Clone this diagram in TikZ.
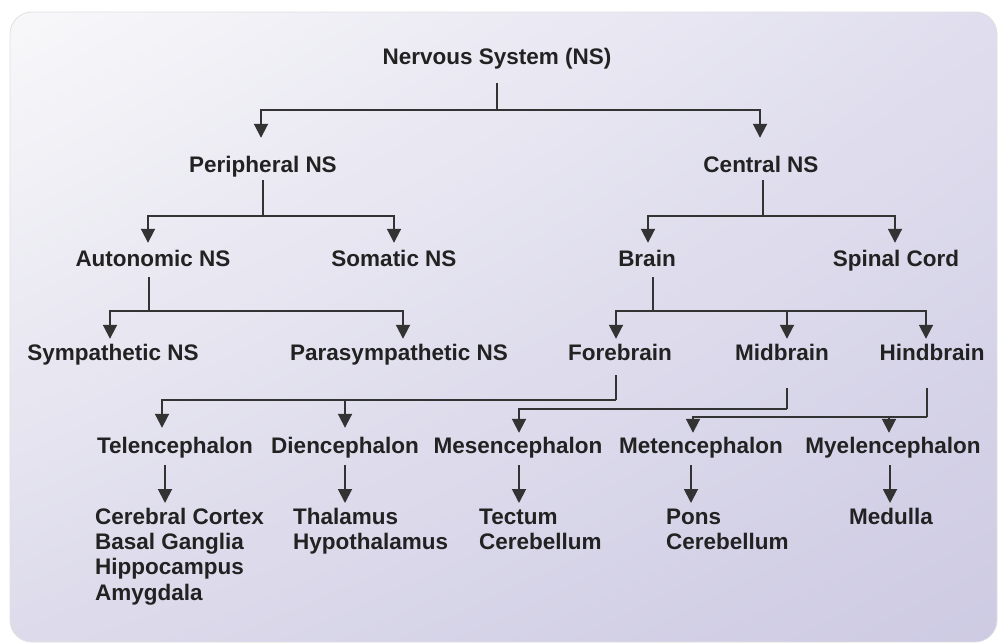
\documentclass[tikz,border=0pt]{standalone}
\usepackage{fontspec}
\setmainfont{Liberation Sans}
\usetikzlibrary{arrows.meta,shadings}
\definecolor{txt}{HTML}{222222}
\definecolor{ln}{HTML}{333333}
\definecolor{cUL}{HTML}{F8F8FA}
\definecolor{cUR}{HTML}{E0DEEE}
\definecolor{cLL}{HTML}{DDDBEB}
\definecolor{cLR}{HTML}{CDCAE3}
\tikzset{
  lbl/.style={anchor=base, inner sep=0pt, text height=16pt, text depth=5pt,
    text=txt, font=\fontsize{22.5}{25.3}\selectfont\bfseries},
  leaf/.style={anchor=north west, inner sep=0pt, align=left,
    text=txt, font=\fontsize{22.5}{25.3}\selectfont\bfseries},
  line/.style={draw=ln, line width=1.9pt},
  arr/.style={draw=ln, line width=1.9pt, -{Triangle[width=14pt,length=14pt]}},
}
\begin{document}
\begin{tikzpicture}[x=1pt,y=-1pt]
\useasboundingbox (0,0) rectangle (998,643);
\path[rounded corners=22pt, upper left=cUL, upper right=cUR, lower left=cLL, lower right=cLR]
  (10,12) rectangle (997,642);
\draw[rounded corners=22pt, draw=black!12, line width=0.8pt] (10,12) rectangle (997,642);

% level 0
\node[lbl] (ns) at (497,64) {Nervous System (NS)};
% level 1
\node[lbl] (pns) at (263,172) {Peripheral NS};
\node[lbl] (cns) at (761,172) {Central NS};
% level 2
\node[lbl] (aut) at (153,266) {Autonomic NS};
\node[lbl] (som) at (394,266) {Somatic NS};
\node[lbl] (brn) at (647,266) {Brain};
\node[lbl] (spc) at (896,266) {Spinal Cord};
% level 3
\node[lbl] (sym) at (113,360) {Sympathetic NS};
\node[lbl] (par) at (399,360) {Parasympathetic NS};
\node[lbl] (fb) at (620,360) {Forebrain};
\node[lbl] (mb) at (782,360) {Midbrain};
\node[lbl] (hb) at (932,360) {Hindbrain};
% level 4
\node[lbl] (tel) at (175,453) {Telencephalon};
\node[lbl] (die) at (345,453) {Diencephalon};
\node[lbl] (mes) at (518,453) {Mesencephalon};
\node[lbl] (met) at (701,453) {Metencephalon};
\node[lbl] (mye) at (893,453) {Myelencephalon};
% level 5
\node[leaf] (cc) at (95,506.3) {\strut Cerebral Cortex\\Basal Ganglia\\Hippocampus\\Amygdala};
\node[leaf] (th) at (293,506.3) {\strut Thalamus\\Hypothalamus};
\node[leaf] (te) at (479,506.3) {\strut Tectum\\Cerebellum};
\node[leaf] (po) at (666,506.3) {\strut Pons\\Cerebellum};
\node[leaf] (me) at (849,506.3) {\strut Medulla};

% connectors level 0 -> 1
\draw[line] (ns.base) ++(0,19) -- ++(0,27) coordinate (j0);
\draw[arr] (j0) -| ([xshift=-2pt,yshift=18pt]pns.north);
\draw[arr] (j0) -| ([xshift=-1pt,yshift=18pt]cns.north);
% level 1 -> 2
\draw[line] (pns.base) ++(0,8) -- ++(0,36) coordinate (j1);
\draw[arr] (j1) -| ([xshift=-5pt,yshift=7pt]aut.north);
\draw[arr] (j1) -| ([yshift=7pt]som.north);
\draw[line] (cns.base) ++(2,8) -- ++(0,36) coordinate (j2);
\draw[arr] (j2) -| ([xshift=1pt,yshift=7pt]brn.north);
\draw[arr] (j2) -| ([xshift=-1pt,yshift=7pt]spc.north);
% level 2 -> 3
\draw[line] (aut.base) ++(-4,11) -- ++(0,34) coordinate (j3);
\draw[arr] (j3) -| ([xshift=-3pt,yshift=5pt]sym.north);
\draw[arr] (j3) -| ([xshift=4pt,yshift=5pt]par.north);
\draw[line] (brn.base) ++(6,11) -- ++(0,34) coordinate (j4);
\draw[arr] (j4) -| ([xshift=-4pt,yshift=5pt]fb.north);
\draw[arr] (j4) -| ([xshift=5pt,yshift=5pt]mb.north);
\draw[arr] (j4) -| ([xshift=-6pt,yshift=5pt]hb.north);
% level 3 -> 4
\draw[line] (fb.base) ++(-4,15) -- ++(0,25) coordinate (j5);
\draw[arr] (j5) -| ([xshift=-13pt,yshift=9pt]tel.north);
\draw[arr] (j5) -| ([yshift=9pt]die.north);
\draw[line] (mb.base) ++(5,28) -- ++(0,21) coordinate (j6);
\draw[arr] (j6) -| ([xshift=1pt,yshift=4pt]mes.north);
\draw[line] (hb.base) ++(-5,28) -- ++(0,29) coordinate (j7);
\draw[arr] (j7) -| ([xshift=-8pt,yshift=4pt]met.north);
\draw[arr] (j7) -| ([xshift=-4pt,yshift=4pt]mye.north);
% level 4 -> 5
\draw[arr, shorten >=3.3pt] ([xshift=-10pt,yshift=-12pt]tel.base) -- ([xshift=-10pt]tel.base |- cc.north);
\draw[arr, shorten >=3.3pt] ([yshift=-12pt]die.base) -- (die.base |- th.north);
\draw[arr, shorten >=3.3pt] ([xshift=1pt,yshift=-12pt]mes.base) -- ([xshift=1pt]mes.base |- te.north);
\draw[arr, shorten >=3.3pt] ([xshift=-10pt,yshift=-12pt]met.base) -- ([xshift=-10pt]met.base |- po.north);
\draw[arr, shorten >=3.3pt] ([xshift=-3pt,yshift=-12pt]mye.base) -- ([xshift=-3pt]mye.base |- me.north);
\end{tikzpicture}
\end{document}
